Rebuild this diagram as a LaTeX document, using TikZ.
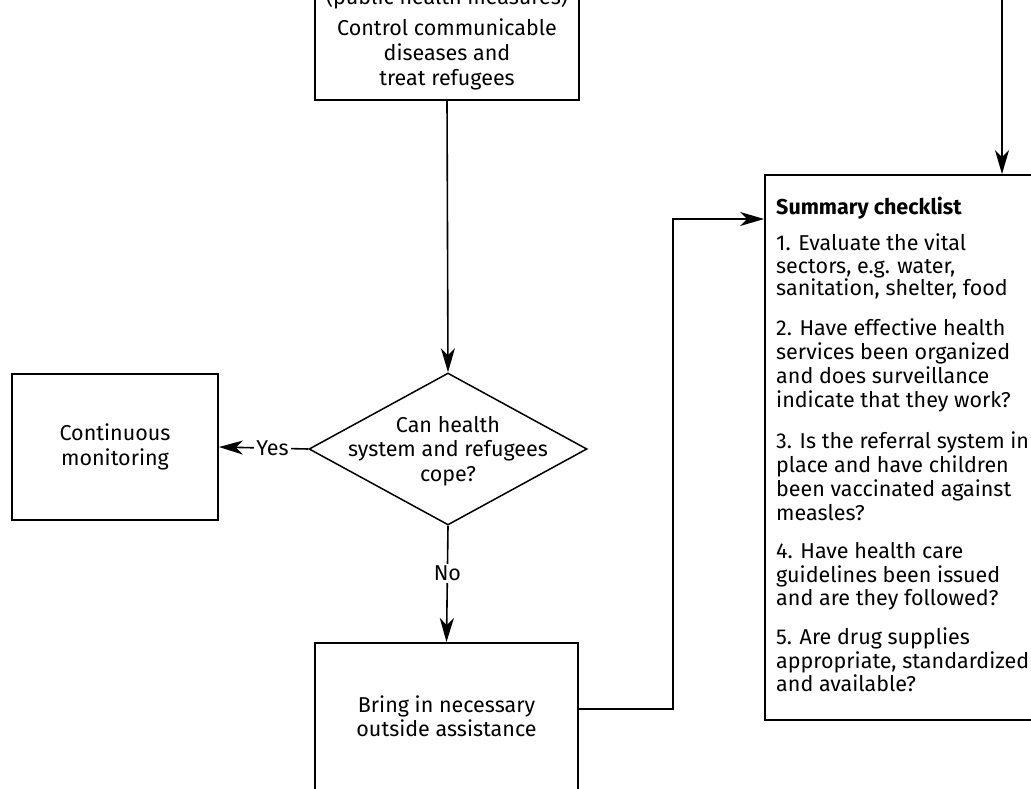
\documentclass[tikz,border=0pt]{standalone}
\usepackage{fontspec}
\setmainfont{Fira Sans}
\usetikzlibrary{shapes.geometric,arrows.meta}
\begin{document}
\begin{tikzpicture}[x=1pt,y=-1pt,
  every node/.style={font=\fontsize{21.5}{24.5}\selectfont},
  box/.style={draw,line width=1.8pt,rectangle,inner sep=0pt},
  dec/.style={draw,line width=1.5pt,diamond,inner sep=0pt,minimum width=278pt,minimum height=152pt},
  arr/.style={line width=1.6pt,-{Stealth[length=24pt,width=14pt,inset=7pt]}},
  lbl/.style={fill=white,inner sep=2pt},
  txt/.style={align=center,inner sep=0pt},
  ln/.style={anchor=base,inner sep=0pt}]
\useasboundingbox (0,0) rectangle (1031,789);
\clip (0,0) rectangle (1031,789);
% boxes
\node[box,minimum width=264pt,minimum height=170pt] (top) at (447,15) {};
\node[ln] at (447,5) {(public health measures)};
\node[ln] at (447,36) {Control communicable};
\node[ln] at (447,61) {diseases and};
\node[ln] at (447,86) {treat refugees};
\node[dec] (dia) at (448,449) {};
\node[txt] at (448,451) {Can health\\system and refugees\\cope?};
\node[box,minimum width=206pt,minimum height=146pt] (cont) at (115,447) {};
\node[txt] at (115,447) {Continuous\\monitoring};
\node[box,minimum width=263pt,minimum height=200pt] (bring) at (446.5,743) {};
\node[txt] at (446.5,716) {Bring in necessary\\outside assistance};
\node[box,minimum width=300pt,minimum height=545pt] (sum) at (915,447.5) {};
% checklist text
\foreach \t/\y in {%
  {1. Evaluate the vital}/243,{sectors, e.g. water,}/266,{sanitation, shelter, food}/288,
  {2. Have effective health}/328,{services been organized}/352,{and does surveillance}/376,{indicate that they work?}/400,
  {3. Is the referral system in}/441,{place and have children}/465,{been vaccinated against}/489,{measles?}/513,
  {4. Have health care}/551,{guidelines been issued}/575,{and are they followed?}/598,
  {5. Are drug supplies}/637,{appropriate, standardized}/661,{and available?}/684}
  \node[anchor=base west,inner sep=0pt] at (776,\y+7) {\t};
\node[anchor=base west,inner sep=0pt,font=\fontsize{21.5}{24.5}\selectfont\bfseries] (title) at (776,214) {Summary checklist};
% connectors
\draw[arr] (top.south) -- (dia.north);
\draw[arr] (dia.west) -- node[lbl,pos=0.4] {Yes} (cont.east);
\draw[arr] (dia.south) -- node[lbl,pos=0.41] {No} (bring.north);
\coordinate (c1) at (673,709);
\coordinate (c2) at (673,219);
\draw[arr] (bring.east |- c1) -- (c1) -- (c2) -- (sum.west |- c2);
\coordinate (s0) at (1002,-5);
\draw[arr] (s0) -- (s0 |- sum.north);
\end{tikzpicture}
\end{document}
